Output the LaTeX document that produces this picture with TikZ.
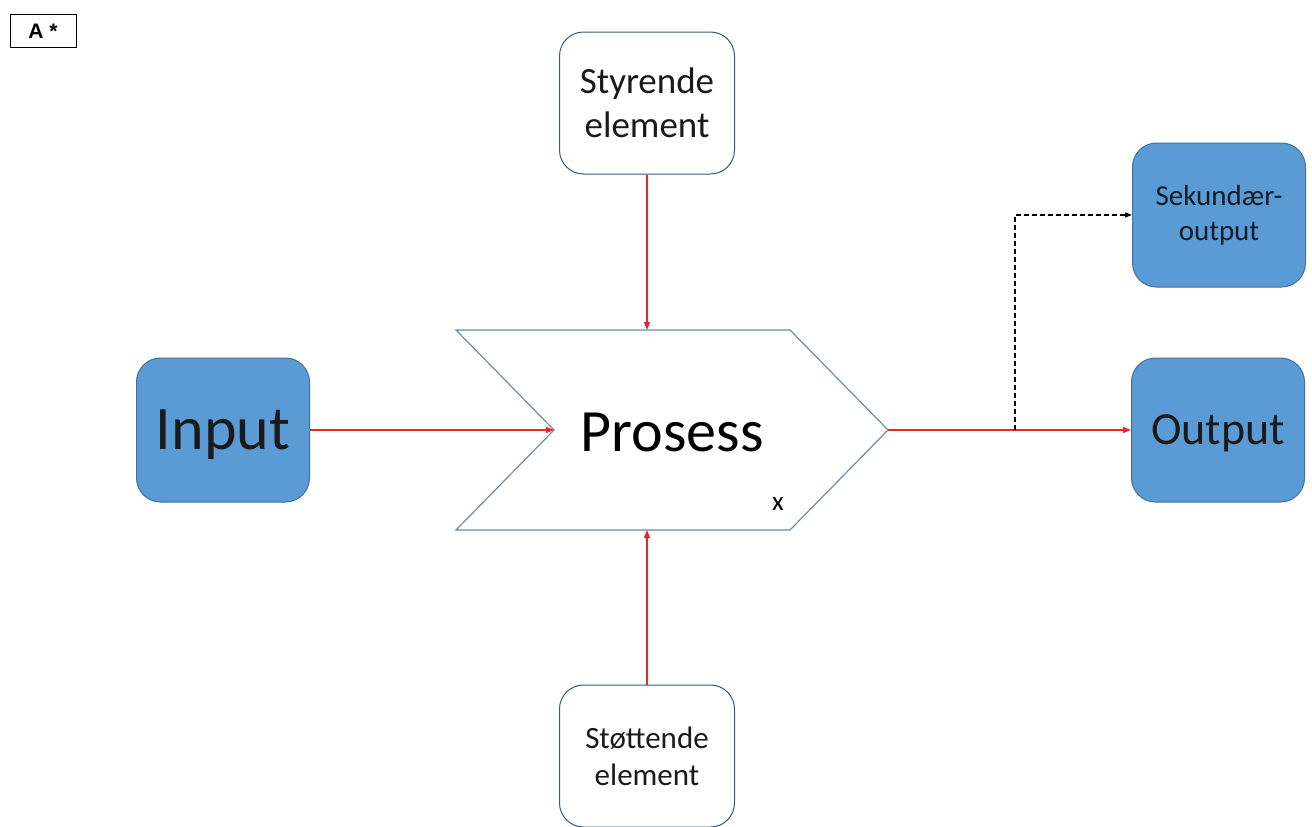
\documentclass[tikz,border=0pt]{standalone}
\usepackage{fontspec}
\setmainfont{Carlito}
\newfontfamily\labelfont{Liberation Sans}
\usetikzlibrary{arrows.meta, positioning}
\definecolor{officeblue}{HTML}{5B9BD5}
\definecolor{officeedge}{HTML}{41719C}
\definecolor{chevedge}{HTML}{6E8CA6}
\definecolor{flowred}{HTML}{E8262A}
\definecolor{darktext}{HTML}{1A1A1A}

\begin{document}
\begin{tikzpicture}[
  x=1pt, y=-1pt,
  bluebox/.style={
    draw=officeedge, fill=officeblue, rounded corners=24pt, line width=1pt,
    minimum width=173pt, minimum height=144pt, align=center, text=darktext
  },
  whitebox/.style={
    draw=officeedge!80!black, fill=white, rounded corners=24pt, line width=1pt,
    minimum width=175pt, minimum height=142pt, align=center, text=darktext
  },
  flow/.style={-{Triangle[length=8pt, width=6pt]}, draw=flowred, line width=1.2pt},
  side/.style={-{Triangle[length=7pt, width=5pt]}, dashed, draw=black, line width=1.2pt,
    dash pattern=on 5pt off 3pt}
]
\useasboundingbox (0,0) rectangle (1312,827);

% ----------------- TAG -----------------
\node[draw=black, line width=1pt, minimum width=66pt, minimum height=33pt,
      font=\labelfont\bfseries\fontsize{21}{24}\selectfont] (tag) at (43,31) {A *};

% ----------------- PROCESS CHEVRON -----------------
\coordinate (ptl) at (456,330);
\coordinate (ptr) at (790,330);
\coordinate (tip) at (888,430);
\coordinate (pbr) at (790,530);
\coordinate (pbl) at (456,530);
\coordinate (notch) at (554,430);
\coordinate (ptop) at (647,330);
\coordinate (pbot) at (647,530);
\draw[draw=chevedge, line width=1.2pt, fill=white]
  (ptl) -- (ptr) -- (tip) -- (pbr) -- (pbl) -- (notch) -- cycle;
\node[font=\fontsize{60}{72}\selectfont] (prosess) at (672,432) {Prosess};
\node[font=\fontsize{27}{30}\selectfont] (mark) at (778,504) {x};

% ----------------- ELEMENTS -----------------
\node[whitebox, font=\fontsize{37}{44}\selectfont] (styr) at (647,103) {Styrende\\element};
\node[whitebox, font=\fontsize{31}{37}\selectfont] (stot) at (647,756) {Støttende\\element};

% ----------------- INPUT / OUTPUT -----------------
\node[bluebox, text depth=0pt, font=\fontsize{62}{70}\selectfont] (input) at (223,430) {Input};
\node[bluebox, text depth=0pt, font=\fontsize{46}{54}\selectfont] (output) at (1218,430) {Output};
\node[bluebox, font=\fontsize{29}{35}\selectfont, text=officeedge!25!black] (sek) at (1219,215) {Sekundær-\\output};

% ----------------- CONNECTIONS -----------------
\draw[flow] (input.east) -- (notch);
\draw[flow] (tip) -- (output.west);
\draw[flow] (styr.south) -- (ptop);
\draw[flow] (stot.north) -- (pbot);
\coordinate (split) at (1015,430);
\draw[side] (split) |- (sek.west);

\end{tikzpicture}
\end{document}
